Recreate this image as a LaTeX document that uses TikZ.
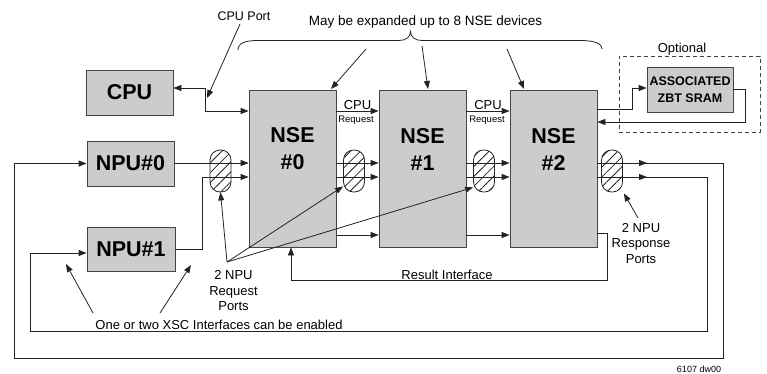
\documentclass[tikz,border=0pt]{standalone}
\usepackage{fontspec}
\setmainfont{Liberation Sans}
\usetikzlibrary{arrows.meta,patterns.meta}
\definecolor{boxfill}{RGB}{204,204,204}
\definecolor{ln}{RGB}{35,35,35}
\begin{document}
\begin{tikzpicture}[x=1pt,y=-1pt,
  blk/.style={draw=ln!85, fill=boxfill, line width=0.8pt, inner sep=0pt},
  lbl/.style={font=\fontsize{21.5}{27}\selectfont\bfseries, align=center, inner sep=0pt},
  txt/.style={font=\fontsize{13}{15.5}\selectfont, align=center, inner sep=0pt},
  smalltxt/.style={font=\fontsize{9.5}{11}\selectfont, align=center, inner sep=0pt},
  capsule/.style={draw=ln, line width=0.8pt, rounded corners=10pt, minimum width=21pt, minimum height=42pt, inner sep=0pt,
     pattern={Lines[angle=45,distance=7pt,line width=0.8pt]}, pattern color=ln},
  wire/.style={draw=ln, line width=0.8pt},
  arr/.style={wire, -{Triangle[length=8pt,width=6pt]}}]
\useasboundingbox (0,0) rectangle (767,373);

% boxes
\node[blk, lbl, minimum width=87pt, minimum height=45pt] (cpu) at (129.5,92.5) {CPU};
\node[blk, lbl, minimum width=87pt, minimum height=45pt] (npu0) at (130.5,163.5) {NPU\#0};
\node[blk, lbl, minimum width=88pt, minimum height=44pt] (npu1) at (131,249) {NPU\#1};
\node[blk, minimum width=87pt, minimum height=157pt] (nse0) at (292.5,168.5) {};
\node[blk, minimum width=87pt, minimum height=157pt] (nse1) at (422.5,168.5) {};
\node[blk, minimum width=87pt, minimum height=157pt] (nse2) at (553.5,168.5) {};
\node[lbl] (nse0t) at (292.5,149) {NSE\\\#0};
\node[lbl] (nse1t) at (422.5,149) {NSE\\\#1};
\node[lbl] (nse2t) at (553.5,149) {NSE\\\#2};
\node[blk, minimum width=86pt, minimum height=45pt, font=\fontsize{12.5}{16.5}\selectfont\bfseries, align=center] (sram) at (690,89.5) {ASSOCIATED\\ZBT SRAM};
\node[draw=ln!85, dashed, dash pattern=on 4pt off 3pt, line width=0.8pt, minimum width=141pt, minimum height=76pt, inner sep=0pt] (opt) at (689.5,94) {};
\node[txt, anchor=south] (optt) at (682,55) {Optional};

% capsules
\node[capsule] (cap1) at (220.5,171) {};
\node[capsule] (cap2) at (354,171) {};
\node[capsule] (cap3) at (484,171) {};
\node[capsule] (cap4) at (612,171) {};

% coordinates
\coordinate (cpj) at (205,88);
\coordinate (cpk) at (205,111);
\coordinate (rQ) at (0,111);
\coordinate (rA) at (0,163);
\coordinate (rB) at (0,177);
\coordinate (rC) at (0,235);
\coordinate (r253) at (0,253);
\coordinate (jn1) at (202,249);
\coordinate (jn2) at (202,177);
\coordinate (oa) at (647,163);
\coordinate (ob) at (647,177);
\coordinate (s1) at (632,109);
\coordinate (s2) at (632,88);
\coordinate (s3) at (745,89);
\coordinate (s4) at (745,122);
\coordinate (q1) at (607,233);
\coordinate (q2) at (607,280);
\coordinate (q3) at (291,280);

% CPU port
\draw[arr] (cpj) -- (cpj -| cpu.east);
\draw[arr] (cpj) -- (cpk) -- (cpk -| nse0.west);
\draw[arr] (nse0.east |- rQ) -- (nse1.west |- rQ);
\draw[arr] (nse1.east |- rQ) -- (nse2.west |- rQ);
\node[txt] (cr1) at (357.5,105) {CPU};
\node[smalltxt] (rq1) at (356,120) {Request};
\node[txt] (cr2) at (488,105) {CPU};
\node[smalltxt] (rq2) at (487,120) {Request};

% NPU inputs
\draw[arr] (npu0.east |- rA) -- (nse0.west |- rA);
\draw[arr] (npu1.east) -- (jn1) -- (jn2) -- (nse0.west |- rB);
\foreach \r in {rA,rB,rC}{
  \draw[arr] (nse0.east |- \r) -- (nse1.west |- \r);
  \draw[arr] (nse1.east |- \r) -- (nse2.west |- \r);
}

% responses back to NPUs
\draw[arr] (nse2.east |- rA) -- (oa);
\draw[arr] (nse2.east |- rB) -- (ob);
\draw[arr] (nse2.east |- rA) -- (723,163) -- (723,358) -- (14,358) -- (14,163.5) -- (npu0.west);
\draw[arr] (nse2.east |- rB) -- (707,177) -- (707,331) -- (30,331) -- (30,253) -- (npu1.west |- r253);

% SRAM
\draw[arr] (nse2.east |- s1) -- (s1) -- (s2) -- (s2 -| sram.west);
\draw[arr] (sram.east |- s3) -- (s3) -- (s4) -- (s4 -| nse2.east);

% Result interface
\draw[arr] (nse2.east |- q1) -- (q1) -- (q2) -- (q3) -- (q3 |- nse0.south);
\node[txt] (resl) at (447,275) {Result Interface};

% request ports
\coordinate (apx) at (227,262);
\draw[arr] (apx) -- (cap1.south);
\draw[arr] (apx) -- ([yshift=6pt]cap2.south west);
\draw[arr] (apx) -- ([yshift=5pt]cap3.south west);
\node[txt] (reqt) at (233.5,291) {2 NPU\\Request\\Ports};

% response ports
\coordinate (rsp) at (638,218);
\draw[arr] (rsp) -- ([xshift=1pt,yshift=-1pt]cap4.south east);
\node[txt] (rspt) at (641,243.5) {2 NPU\\Response\\Ports};

% XSC
\node[txt] (xsc) at (219,325) {One or two XSC Interfaces can be enabled};
\coordinate (x1) at (93,313);
\coordinate (x2) at (160,313);
\draw[arr] (x1) -- (66,264);
\draw[arr] (x2) -- (191,265);

% CPU Port label
\node[font=\fontsize{12.5}{15}\selectfont, inner sep=0pt] (cpl) at (244,16) {CPU Port};
\coordinate (cp1) at (240,24);
\draw[arr] (cp1) -- (207,98);

% brace
\draw[wire] (238,50) .. controls (238,43) and (245,40.5) .. (258,40.5) -- (399,40.5)
  .. controls (406,40.5) and (410.5,37) .. (410.5,31.5)
  .. controls (410.5,37) and (415,40.5) .. (422,40.5) -- (580,40.5)
  .. controls (596,40.5) and (602,44) .. (602,49);
\node[font=\fontsize{13.5}{16}\selectfont, inner sep=0pt] (maybe) at (425.5,22) {May be expanded up to 8 NSE devices};
\draw[arr] (366,49) -- (331,89);
\draw[arr] (422,46) -- (428,89);
\draw[arr] (507,49) -- (524,89);

\node[font=\fontsize{9}{11}\selectfont, inner sep=0pt] (ref) at (699,369) {6107 dw00};
\end{tikzpicture}
\end{document}
